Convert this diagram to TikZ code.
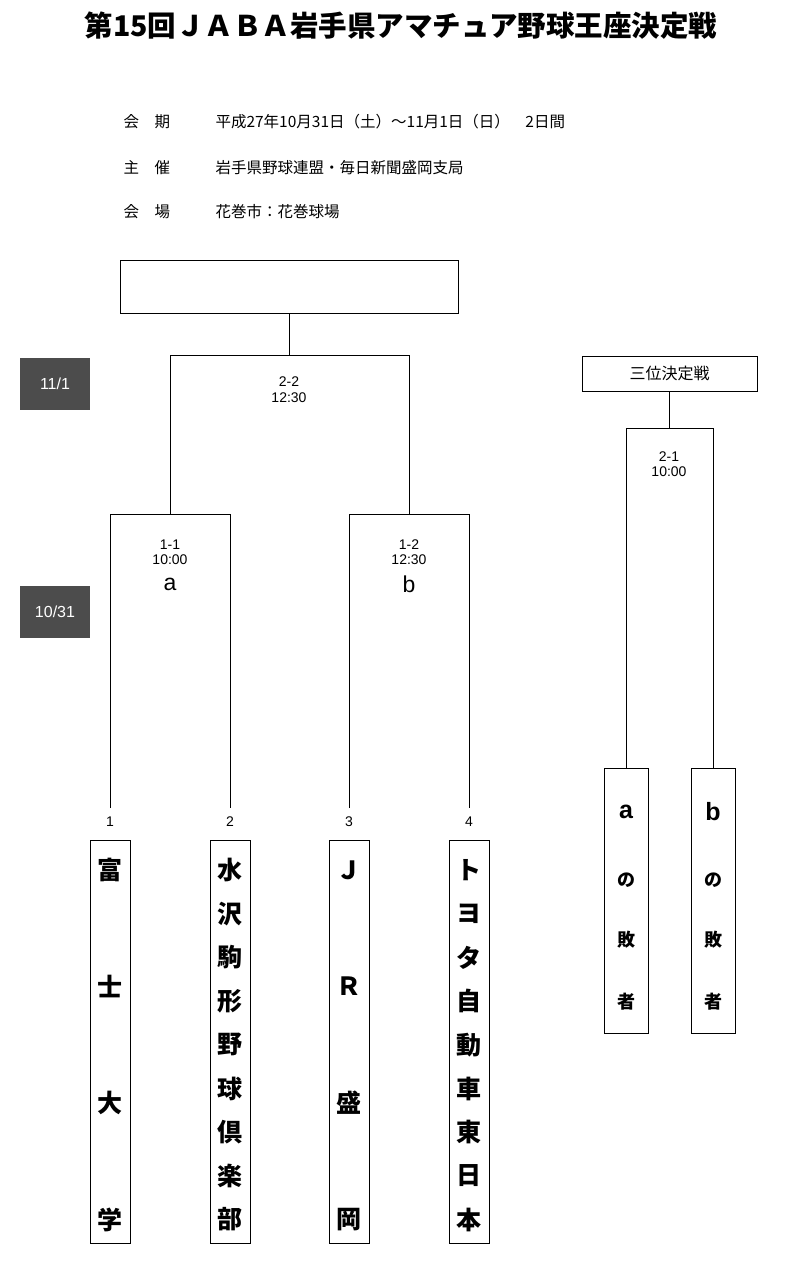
\documentclass[tikz,border=0pt]{standalone}
\usepackage{fontspec}
\setmainfont{Liberation Sans}
\newfontfamily\cjk{Noto Sans CJK JP}
\usetikzlibrary{positioning}

\tikzset{
  box/.style={draw, line width=0.8pt, inner sep=0pt},
  datebox/.style={fill=black!70, text=white, minimum width=70pt, minimum height=52pt, font=\fontsize{16}{16}\selectfont},
  bline/.style={line width=0.8pt},
  small/.style={font=\fontsize{14}{14}\selectfont},
  big/.style={font=\cjk\bfseries\fontsize{25}{25}\selectfont},
  info/.style={anchor=west, font=\cjk\fontsize{15.5}{15.5}\selectfont}
}

\begin{document}
\begin{tikzpicture}[x=1pt, y=-1pt]
    \useasboundingbox (0,0) rectangle (801,1280);

    % Title
    \node[font=\cjk\bfseries\fontsize{28.5}{28.5}\selectfont] (title) at (401,26) {第15回ＪＡＢＡ岩手県アマチュア野球王座決定戦};

    % Info
    \node[info] (l1) at (120,122) {会　期};
    \node[info] (v1) at (212,122) {平成27年10月31日（土）～11月1日（日）　2日間};
    \node[info] (l2) at (120,168) {主　催};
    \node[info] (v2) at (212,168) {岩手県野球連盟・毎日新聞盛岡支局};
    \node[info] (l3) at (120,212) {会　場};
    \node[info] (v3) at (212,212) {花巻市：花巻球場};

    % Dates
    \node[datebox] (d1) at (55,384) {11/1};
    \node[datebox] (d2) at (55,612) {10/31};

    % Champion box and final
    \draw[bline] (120,260) rectangle (458,313);
    \coordinate (champ) at (289,313);
    \draw[bline] (champ) -- (289,355);
    \draw[bline] (170,514) -- (170,355) -- (409,355) -- (409,514);
    \node[small] (f1) at (289,382) {2-2};
    \node[small] (f2) at (289,398) {12:30};

    % Semi finals
    \draw[bline] (110,808) -- (110,514) -- (230,514) -- (230,808);
    \node[small] (s1) at (170,545) {1-1};
    \node[small] (s1t) at (170,560) {10:00};
    \node[font=\fontsize{23}{23}\selectfont] (sa) at (170,584) {a};
    \draw[bline] (349,808) -- (349,514) -- (469,514) -- (469,808);
    \node[small] (s2) at (409,545) {1-2};
    \node[small] (s2t) at (409,560) {12:30};
    \node[font=\fontsize{23}{23}\selectfont] (sb) at (409,584) {b};

    % Teams
    \foreach \x/\n in {110/1,230/2,349/3,469/4} {
        \node[small] (n\n) at (\x,822) {\n};
        \draw[bline] (\x-20,840) rectangle (\x+20,1243);
    }
    \foreach \c [count=\i] in {富,士,大,学}
        \node[big] (ta\i) at (110,{870+(\i-1)*116.5}) {\c};
    \foreach \c [count=\i] in {水,沢,駒,形,野,球,倶,楽,部}
        \node[big] (tb\i) at (230,{870+(\i-1)*43.7}) {\c};
    \foreach \c [count=\i] in {Ｊ,Ｒ,盛,岡}
        \node[big] (tc\i) at (349,{870+(\i-1)*116.5}) {\c};
    \foreach \c [count=\i] in {ト,ヨ,タ,自,動,車,東,日,本}
        \node[big] (td\i) at (469,{870+(\i-1)*43.7}) {\c};

    % Third place
    \node[draw, line width=0.8pt, minimum width=175pt, minimum height=35pt, font=\cjk\fontsize{16}{16}\selectfont] (third) at (669.5,373.5) {三位決定戦};
    \draw[bline] (third.south) -- (669.5,428);
    \draw[bline] (626,768) -- (626,428) -- (713,428) -- (713,768);
    \node[small] (t1) at (669,457) {2-1};
    \node[small] (t1t) at (669,472) {10:00};
    \foreach \x/\l in {626/a,713/b} {
        \draw[bline] (\x-22,768) rectangle (\x+22,1033);
        \node[font=\bfseries\fontsize{25}{25}\selectfont] (lo\l) at (\x,812) {\l};
        \node[font=\cjk\bfseries\fontsize{18}{18}\selectfont] (lp\l) at (\x,880) {の};
        \node[font=\cjk\bfseries\fontsize{18}{18}\selectfont] (lq\l) at (\x,940) {敗};
        \node[font=\cjk\bfseries\fontsize{18}{18}\selectfont] (lr\l) at (\x,1002) {者};
    }
\end{tikzpicture}
\end{document}
